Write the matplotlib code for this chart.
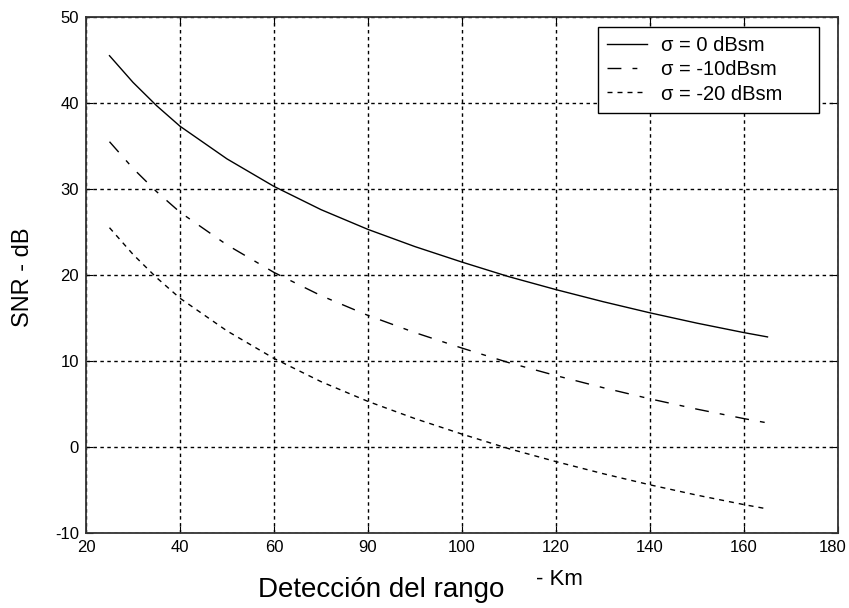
import matplotlib
matplotlib.use("Agg")
import matplotlib.pyplot as plt
import matplotlib.transforms as mtransforms

plt.rcParams['font.family'] = ['Liberation Sans', 'DejaVu Sans']
plt.rcParams['axes.unicode_minus'] = False

# Range (km) and SNR (dB)
range_km = [25, 30, 35, 40, 50, 60, 70, 80, 90, 100, 110, 120, 130, 140, 150, 160, 165]
snr_0 = [45.5, 42.4, 39.7, 37.3, 33.5, 30.3, 27.6, 25.3, 23.3, 21.5, 19.8, 18.3, 16.9, 15.6, 14.4, 13.3, 12.8]
snr_10 = [35.5, 32.4, 29.7, 27.3, 23.5, 20.3, 17.6, 15.3, 13.3, 11.5, 9.8, 8.3, 6.9, 5.6, 4.4, 3.3, 2.8]
snr_20 = [25.5, 22.4, 19.7, 17.3, 13.5, 10.3, 7.6, 5.3, 3.3, 1.5, -0.2, -1.7, -3.1, -4.4, -5.6, -6.7, -7.2]

xticks = [20, 40, 60, 80, 100, 120, 140, 160, 180]
xticklabels = ["20", "40", "60", "90", "100", "120", "140", "160", "180"]
yticks = [-10, 0, 10, 20, 30, 40, 50]
labels = ["σ = 0 dBsm", "σ = -10dBsm", "σ = -20 dBsm"]

W, H = 849, 608
fig = plt.figure(figsize=(W / 100, H / 100), dpi=100)
ax = fig.add_axes([86 / W, 1 - 533 / H, (838 - 86) / W, (533 - 17) / H])

ax.plot(range_km, snr_0, color='black', lw=1.0, linestyle='-', label=labels[0])
ax.plot(range_km, snr_10, color='black', lw=1.0, linestyle=(0, (10, 8, 3.5, 8)), label=labels[1])
ax.plot(range_km, snr_20, color='black', lw=1.0, linestyle=(0, (3.6, 3.6)), label=labels[2])

ax.set_xlim(20, 180)
ax.set_ylim(-10, 50)
ax.set_xticks(xticks)
ax.set_xticklabels(xticklabels)
ax.set_yticks(yticks)
ax.grid(True, color='black', linestyle=(0, (2.5, 2.5)), linewidth=1.0)
ax.tick_params(direction='in', top=True, right=True, labelsize=12, length=5, pad=5)
for s in ax.spines.values():
    s.set_linewidth(1.3)
    s.set_color('#333333')

# keep the last x tick label inside the figure
last = ax.get_xticklabels()[-1]
last.set_transform(last.get_transform() + mtransforms.ScaledTranslation(-4 / 72, 0, fig.dpi_scale_trans))

ax.set_ylabel("SNR - dB", fontsize=17)
ax.yaxis.set_label_coords((34 - 86) / (838 - 86), (533 - 277) / (533 - 17))
fig.text(381 / W, 1 - 597 / H, "Detección del rango", fontsize=20, ha='center', va='baseline')
fig.text(559 / W, 1 - 585 / H, "- Km", fontsize=16, ha='center', va='baseline')

leg = ax.legend(loc='upper left', bbox_to_anchor=(598 / W, 1 - 112 / H, 221 / W, 85 / H),
                bbox_transform=fig.transFigure, borderaxespad=0, mode='expand',
                fontsize=14.5, frameon=True, fancybox=False,
                edgecolor='black', framealpha=1,
                handlelength=2.0, handletextpad=0.7, labelspacing=0.26,
                borderpad=0.45)
leg.get_frame().set_linewidth(1.0)

fig.savefig("out.png", dpi=100)
